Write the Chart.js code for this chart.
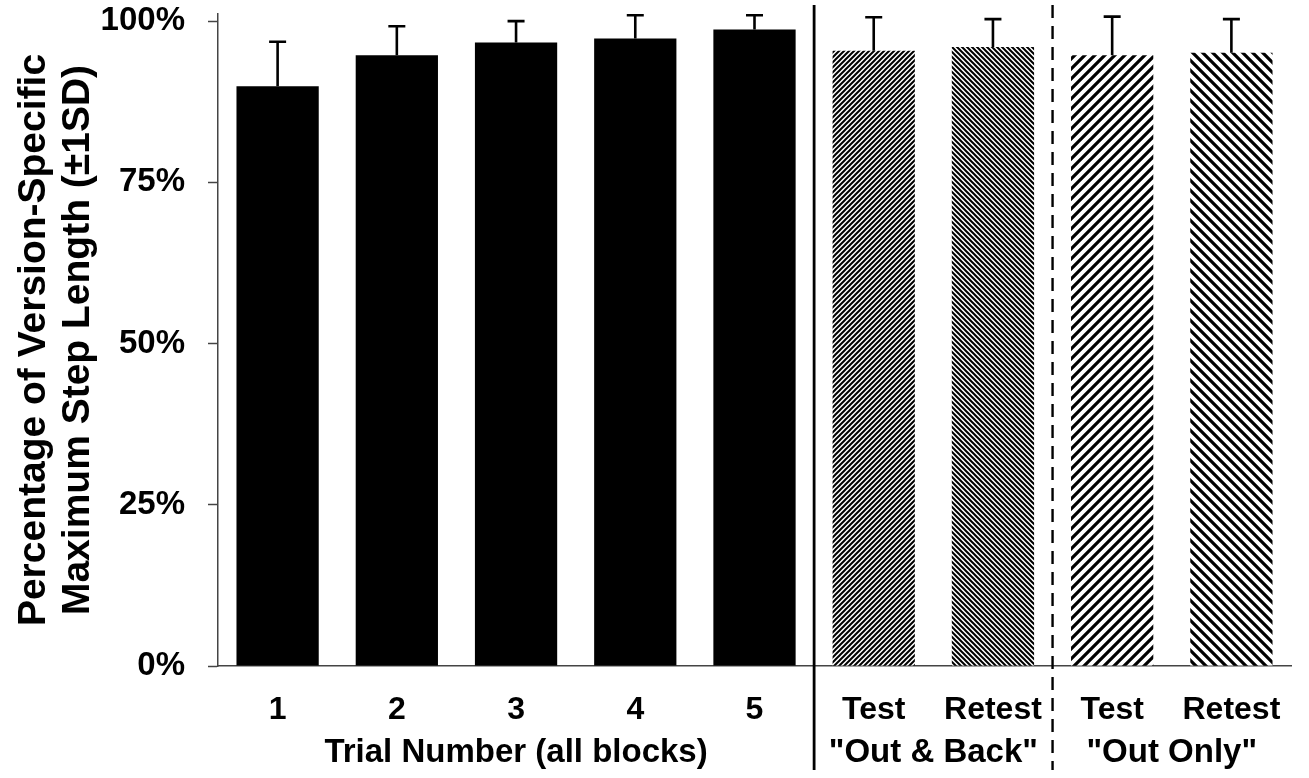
<!DOCTYPE html>
<html>
<head>
<meta charset="utf-8">
<script src="https://cdn.jsdelivr.net/npm/chart.js@4"></script>
<style>
  html, body { margin: 0; padding: 0; background: #fff; }
  #wrap { width: 1309px; height: 778px; position: relative; }
</style>
</head>
<body>
<div id="wrap"><canvas id="steps"></canvas></div>
<script>
(function() {

  "use strict";

  // values (percent of version-specific max step length)
  var categories = ['1', '2', '3', '4', '5', 'Test', 'Retest', 'Test', 'Retest'];
  var means = [89.9, 94.7, 96.7, 97.3, 98.7, 95.4, 96.0, 94.7, 95.1];
  var sds = [6.9, 4.5, 3.3, 3.6, 2.2, 5.2, 4.3, 6.0, 5.2];
  var yTicks = [0, 25, 50, 75, 100];

  // group captions under the category labels: [first index, last index, text]
  var groups = [
    [0, 4, 'Trial Number (all blocks)'],
    [5, 6, '"Out & Back"'],
    [7, 8, '"Out Only"']
  ];

  var FONT = '"Liberation Sans", Arial, sans-serif';

  // diagonal hatch fill, '/' or '\'
  var makeHatch = function(size, lineW, dir) {
    var c = document.createElement('canvas');
    c.width = size;
    c.height = size;
    var g = c.getContext('2d');
    g.fillStyle = '#fff';
    g.fillRect(0, 0, size, size);
    g.strokeStyle = '#000';
    g.lineWidth = lineW;
    g.beginPath();
    if (dir === '/') {
      g.moveTo(-2, 2); g.lineTo(2, -2);
      g.moveTo(0, size); g.lineTo(size, 0);
      g.moveTo(size - 2, size + 2); g.lineTo(size + 2, size - 2);
    } else {
      g.moveTo(-2, size - 2); g.lineTo(2, size + 2);
      g.moveTo(0, 0); g.lineTo(size, size);
      g.moveTo(size - 2, -2); g.lineTo(size + 2, 2);
    }
    g.stroke();
    return g.createPattern(c, 'repeat');
  };

  var barFills = [
    '#000', '#000', '#000', '#000', '#000',
    makeHatch(5, 2, '/'),
    makeHatch(5, 2, '\\'),
    makeHatch(10, 3.2, '/'),
    makeHatch(10, 3.2, '\\')
  ];

  // upward-only SD whiskers
  var errorBars = {
    id: 'errorBars',
    afterDatasetsDraw: function(chart) {
      var ctx = chart.ctx;
      var y = chart.scales.y;
      var meta = chart.getDatasetMeta(0);
      ctx.save();
      ctx.strokeStyle = '#000';
      ctx.lineWidth = 2.6;
      meta.data.forEach(function(bar, i) {
        var top = y.getPixelForValue(means[i]);
        var tip = y.getPixelForValue(means[i] + sds[i]);
        ctx.beginPath();
        ctx.moveTo(bar.x, top);
        ctx.lineTo(bar.x, tip);
        ctx.moveTo(bar.x - 8.5, tip);
        ctx.lineTo(bar.x + 8.5, tip);
        ctx.stroke();
      });
      ctx.restore();
    }
  };

  // block separators and group captions
  var groupMarks = {
    id: 'groupMarks',
    afterDraw: function(chart) {
      var ctx = chart.ctx;
      var x = chart.scales.x;
      var area = chart.chartArea;
      var sepSolid = (x.getPixelForValue(4) + x.getPixelForValue(5)) / 2;
      var sepDash = (x.getPixelForValue(6) + x.getPixelForValue(7)) / 2;

      ctx.save();
      ctx.strokeStyle = '#000';
      ctx.lineWidth = 2.8;
      ctx.beginPath();
      ctx.moveTo(sepSolid, area.top - 9);
      ctx.lineTo(sepSolid, chart.height - 8);
      ctx.stroke();

      ctx.lineWidth = 2.4;
      ctx.setLineDash([13, 8]);
      ctx.beginPath();
      ctx.moveTo(sepDash, area.top - 9);
      ctx.lineTo(sepDash, chart.height - 8);
      ctx.stroke();
      ctx.setLineDash([]);

      ctx.fillStyle = '#000';
      ctx.font = 'bold 33px ' + FONT;
      ctx.textAlign = 'center';
      ctx.textBaseline = 'middle';
      groups.forEach(function(gr) {
        var cx = (x.getPixelForValue(gr[0]) + x.getPixelForValue(gr[1])) / 2;
        ctx.fillText(gr[2], cx, 753);
      });
      ctx.restore();
    }
  };

  var initChart = function() {
    new Chart('steps', {
      type: 'bar',
      data: {
        labels: categories,
        datasets: [{
          data: means,
          backgroundColor: barFills,
          borderWidth: 0,
          barPercentage: 0.69,
          categoryPercentage: 1
        }]
      },
      options: {
        responsive: true,
        maintainAspectRatio: false,
        animation: false,
        layout: { padding: { left: 0, right: 18, top: 14, bottom: 0 } },
        plugins: {
          legend: { display: false },
          tooltip: { enabled: false }
        },
        scales: {
          x: {
            grid: { display: false, drawTicks: false },
            border: { display: true, color: '#444', width: 1.5 },
            ticks: {
              color: '#000',
              padding: 25,
              maxRotation: 0,
              autoSkip: false,
              font: { family: FONT, size: 32, weight: 'bold' }
            },
            afterFit: function(scale) {
              scale.height = 112;
              scale.paddingLeft = 0;
              scale.paddingRight = 0;
            }
          },
          y: {
            min: 0,
            max: 101.1,
            afterBuildTicks: function(scale) {
              scale.ticks = yTicks.map(function(v) { return { value: v }; });
            },
            grid: {
              drawOnChartArea: false,
              drawTicks: true,
              tickLength: 10,
              tickWidth: 1.5,
              tickColor: '#444'
            },
            border: { display: true, color: '#444', width: 1.5 },
            ticks: {
              color: '#000',
              padding: 23,
              font: { family: FONT, size: 33, weight: 'bold' },
              callback: function(v) { return v + '%'; }
            },
            title: {
              display: true,
              text: ['Percentage of Version-Specific', 'Maximum Step Length (\u00b11SD)'],
              color: '#000',
              font: { family: FONT, size: 39, weight: 'bold', lineHeight: 1.13 },
              padding: { top: 12, bottom: 0 }
            },
            afterFit: function(scale) {
              scale.width = 218;
              // keep label overflow from pushing the plot down
              scale.paddingTop = 0;
              scale.paddingBottom = 0;
            }
          }
        }
      },
      plugins: [errorBars, groupMarks]
    });
  };

  initChart();

})();
</script>
</body>
</html>
